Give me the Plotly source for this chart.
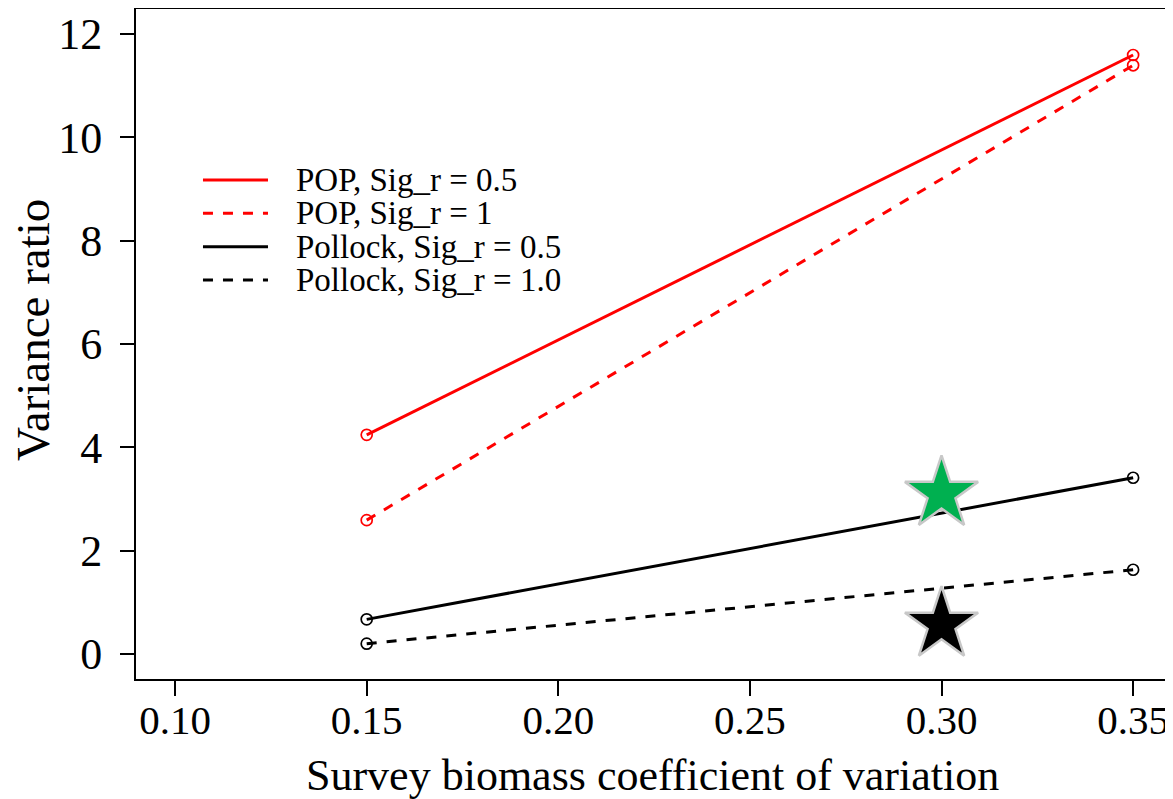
import plotly.graph_objects as go

cv = [0.15, 0.35]
pop_sig05 = [4.24, 11.59]
pop_sig1 = [2.59, 11.39]
pollock_sig05 = [0.67, 3.41]
pollock_sig1 = [0.20, 1.63]

star_x = [0.30, 0.30]
star_y = [3.10, 0.57]
star_colors = ["#00b050", "#000000"]

x_ticks = [0.10, 0.15, 0.20, 0.25, 0.30, 0.35]
x_ticklabels = ["0.10", "0.15", "0.20", "0.25", "0.30", "0.35"]
y_ticks = [0, 2, 4, 6, 8, 10, 12]

DASH = "10px,10px"
series = [
    ("POP, Sig_r = 0.5", pop_sig05, "#ff0000", "solid"),
    ("POP, Sig_r = 1", pop_sig1, "#ff0000", DASH),
    ("Pollock, Sig_r = 0.5", pollock_sig05, "#000000", "solid"),
    ("Pollock, Sig_r = 1.0", pollock_sig1, "#000000", DASH),
]

font = "Liberation Serif, Times New Roman, serif"
fig = go.Figure()
for name, ys, col, dash in series:
    fig.add_trace(go.Scatter(
        x=cv, y=ys, mode="lines", name=name, showlegend=False,
        line=dict(color=col, width=3, dash=dash),
    ))
for name, ys, col, dash in series:
    fig.add_trace(go.Scatter(
        x=cv, y=ys, mode="markers", showlegend=False,
        marker=dict(symbol="circle-open", size=11, color=col, line=dict(width=1.7, color=col)),
    ))

fig.add_trace(go.Scatter(
    x=star_x, y=star_y, mode="markers", showlegend=False,
    marker=dict(symbol="star", size=55, color=star_colors,
                line=dict(color="#c8c8c8", width=2.5)),
))

# manual legend (keys drawn in paper coordinates)
leg_x0, leg_x1, leg_tx = 0.0649, 0.1279, 0.1541
leg_y0, leg_dy = 0.7448, 0.0498
for i, (name, ys, col, dash) in enumerate(series):
    yy = leg_y0 - i * leg_dy
    fig.add_shape(type="line", xref="paper", yref="paper",
                  x0=leg_x0, x1=leg_x1, y0=yy, y1=yy,
                  line=dict(color=col, width=3, dash=dash))
    fig.add_annotation(xref="paper", yref="paper", x=leg_tx, y=yy,
                       xanchor="left", yanchor="middle", showarrow=False,
                       borderpad=0,
                       text=name, font=dict(size=33, family=font, color="black"))

fig.add_annotation(xref="paper", yref="paper", x=0.5, y=0, xanchor="center",
                   yanchor="middle", yshift=-96, showarrow=False,
                   text="Survey biomass coefficient of variation",
                   font=dict(size=44, family=font, color="black"))
fig.add_annotation(xref="paper", yref="paper", x=0, y=0.521, xanchor="center",
                   yanchor="middle", xshift=-103, textangle=-90, showarrow=False,
                   borderpad=0,
                   text="Variance ratio",
                   font=dict(size=47, family=font, color="black"))

# page body has an 8px default margin: figure is sized/offset to compensate
fig.update_layout(
    width=1165, height=791,
    paper_bgcolor="white", plot_bgcolor="white",
    margin=dict(l=128, r=5, t=1, b=120),
    font=dict(family=font, color="black"),
    showlegend=False,
    xaxis=dict(range=[0.0898, 0.3591], tickvals=x_ticks, ticktext=x_ticklabels,
               showgrid=False, zeroline=False, showline=True, mirror=True, automargin=False,
               linecolor="black", linewidth=2, ticks="outside", ticklen=15, tickwidth=2,
               tickcolor="black", tickfont=dict(size=41), ticklabelstandoff=-11),
    yaxis=dict(range=[-0.484, 12.48], tickvals=y_ticks,
               showgrid=False, zeroline=False, showline=True, mirror=True, automargin=False,
               linecolor="black", linewidth=2, ticks="outside", ticklen=14, tickwidth=2,
               tickcolor="black", tickfont=dict(size=44), ticklabelstandoff=9),
)

fig.write_html("out.html")
